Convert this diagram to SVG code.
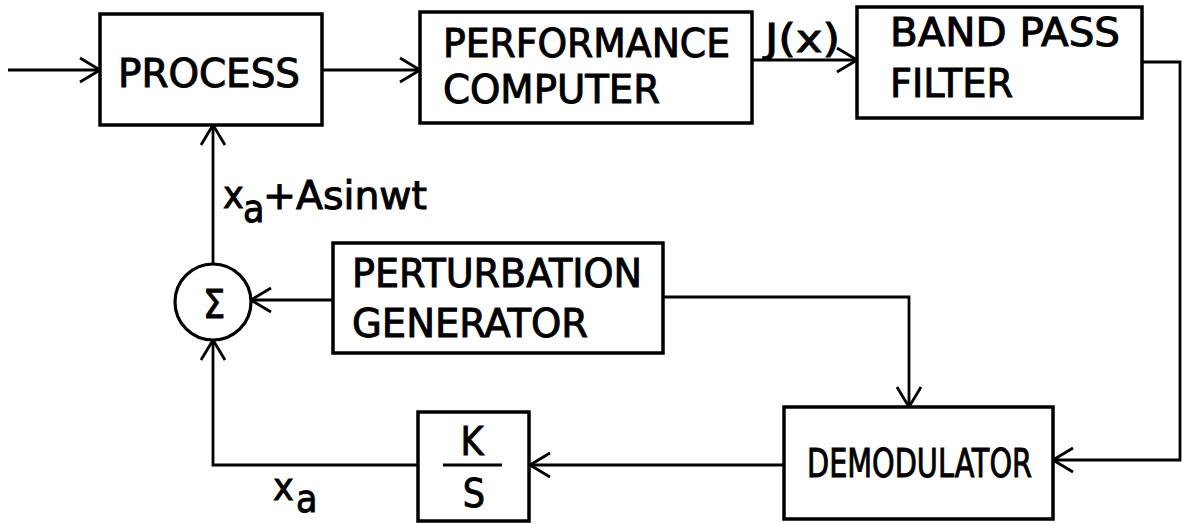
<svg xmlns="http://www.w3.org/2000/svg" width="1188" height="524" viewBox="0 0 1188 524">
<style>
.box{fill:#fff;stroke:#000;stroke-width:3.5}
.ln{fill:none;stroke:#000;stroke-width:2.8;marker-end:url(#ah)}
text{font-family:"DejaVu Sans Condensed","Liberation Sans Narrow","DejaVu Sans",sans-serif;font-size:39px;fill:#000;stroke:#000;stroke-width:0.9}
</style>
<defs>
<marker id="ah" markerUnits="userSpaceOnUse" viewBox="0 0 24 28" refX="22" refY="14" markerWidth="24" markerHeight="28" orient="auto">
<path d="M2,2 L22,14 L2,26" fill="none" stroke="#000" stroke-width="2.8"/>
</marker>
</defs>
<rect width="1188" height="524" fill="#fff"/>
<g id="connectors">
<path class="ln" d="M8,70 H100"/>
<path class="ln" d="M322,70 H420"/>
<path class="ln" d="M752,60 H857"/>
<path class="ln" d="M1142,62 H1180 V460 H1053"/>
<path class="ln" d="M663,297 H909 V407"/>
<path class="ln" d="M784,465 H530"/>
<path class="ln" d="M418,465 H213 V340"/>
<path class="ln" d="M333,300 H251"/>
<path class="ln" d="M213,264 V125"/>
<text x="765" y="52" font-size="36" textLength="75" lengthAdjust="spacingAndGlyphs">J(x)</text>
<text x="223" y="208" font-size="34">x</text>
<text x="243" y="222" font-size="30">a</text>
<text x="263" y="209" font-size="34" textLength="164" lengthAdjust="spacingAndGlyphs">+Asinwt</text>
<text x="273" y="500" font-size="34">x</text>
<text x="296" y="512" font-size="30">a</text>
</g>
<g id="process">
<rect class="box" x="100" y="14" width="222" height="111"/>
<text x="118" y="87" textLength="182" lengthAdjust="spacingAndGlyphs">PROCESS</text>
</g>
<g id="performance-computer">
<rect class="box" x="420" y="12" width="332" height="111"/>
<text x="443" y="57" textLength="287" lengthAdjust="spacingAndGlyphs">PERFORMANCE</text>
<text x="443" y="103" textLength="217" lengthAdjust="spacingAndGlyphs">COMPUTER</text>
</g>
<g id="band-pass-filter">
<rect class="box" x="857" y="7" width="285" height="111"/>
<text x="890" y="46" textLength="230" lengthAdjust="spacingAndGlyphs">BAND  PASS</text>
<text x="890" y="97" textLength="123" lengthAdjust="spacingAndGlyphs">FILTER</text>
</g>
<g id="summer">
<circle cx="213" cy="302" r="38" fill="#fff" stroke="#000" stroke-width="3.2"/>
<text x="214" y="318" font-family="DejaVu Sans, sans-serif" font-size="46" stroke-width="2.4" text-anchor="middle">Σ</text>
</g>
<g id="perturbation-generator">
<rect class="box" x="333" y="243" width="330" height="110"/>
<text x="352" y="287" textLength="290" lengthAdjust="spacingAndGlyphs">PERTURBATION</text>
<text x="352" y="337" textLength="236" lengthAdjust="spacingAndGlyphs">GENERATOR</text>
</g>
<g id="integrator">
<rect class="box" x="418" y="412" width="111" height="109"/>
<text x="472" y="455" font-size="38" text-anchor="middle">K</text>
<line x1="443" y1="465" x2="502" y2="465" stroke="#000" stroke-width="3"/>
<text x="474" y="507" font-size="38" text-anchor="middle">S</text>
</g>
<g id="demodulator">
<rect class="box" x="784" y="407" width="269" height="112"/>
<text x="807" y="477" textLength="225" lengthAdjust="spacingAndGlyphs">DEMODULATOR</text>
</g>
</svg>
